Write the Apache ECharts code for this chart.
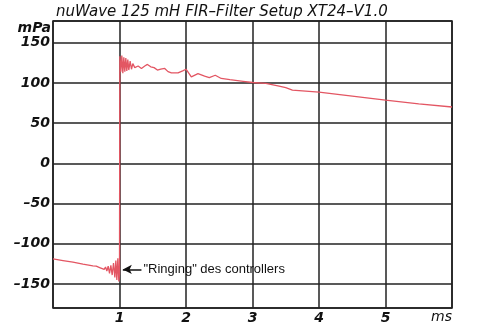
<!DOCTYPE html>
<html>
<head>
<meta charset="utf-8">
<script src="https://cdn.jsdelivr.net/npm/echarts@6/dist/echarts.min.js"></script>
<style>
  html, body { margin: 0; padding: 0; background: #fff; }
  #chart { width: 477px; height: 326px; }
</style>
</head>
<body>
<div id="chart"></div>
<script>
// time axis in ms, pressure in mPa
var timeMs = [
  0, 0.15, 0.3, 0.45, 0.6, 0.65, 0.68, 0.71, 0.74, 0.77, 0.79, 0.81, 0.83, 0.85, 0.87, 0.89,
  0.91, 0.93, 0.945, 0.96, 0.975, 0.99, 1.0,
  1.005, 1.02, 1.035, 1.05, 1.065, 1.08, 1.095, 1.11, 1.125, 1.14, 1.16, 1.18, 1.2, 1.23,
  1.28, 1.33, 1.38, 1.42, 1.47, 1.52, 1.57, 1.62, 1.68, 1.73, 1.78, 1.88, 1.95, 2.0,
  2.08, 2.18, 2.28, 2.35, 2.44, 2.53, 2.66, 2.86, 3.0, 3.2, 3.4, 3.5, 3.6, 4.0, 4.5, 5.0, 5.5, 6.0
];
var pressure = [
  -119, -121, -123, -125.5, -127.5, -128, -126.5, -130, -128, -132, -129, -134, -128, -137, -127, -139,
  -124, -142, -121, -145, -118, -147, -138,
  133, 114, 134, 112, 132, 114, 131, 115, 129, 116, 127, 117, 124, 119,
  121, 118, 121, 123, 120, 119, 116, 117, 118, 114, 112.5, 112.5, 115, 117,
  107.5, 111.5, 108.5, 106.5, 109.5, 105.5, 104, 102, 100.5, 99.5, 96, 94, 91, 88.5, 83.5, 78.5, 74, 70
];
var xTicks = [1, 2, 3, 4, 5];
var yTicks = [-150, -100, -50, 0, 50, 100, 150];

var seriesData = timeMs.map(function (t, i) { return [t, pressure[i]]; });

var labelFont = {
  color: '#111',
  fontFamily: 'DejaVu Sans',
  fontStyle: 'italic',
  fontWeight: 'bold',
  fontSize: 14
};

var option = {
  animation: false,
  backgroundColor: '#fff',
  title: {
    text: 'nuWave 125 mH FIR–Filter Setup XT24–V1.0',
    left: 51,
    top: 0,
    textStyle: {
      color: '#111',
      fontFamily: 'DejaVu Sans',
      fontStyle: 'italic',
      fontWeight: 'normal',
      fontSize: 15
    }
  },
  grid: {
    left: 53, right: 25, top: 21, bottom: 18,
    show: true,
    borderColor: '#111',
    borderWidth: 1.5
  },
  xAxis: {
    type: 'value',
    min: 0,
    max: 6,
    interval: 1,
    name: 'ms',
    nameLocation: 'end',
    nameGap: 0,
    nameTextStyle: {
      color: '#111',
      fontFamily: 'DejaVu Sans',
      fontStyle: 'italic',
      fontSize: 14,
      align: 'right',
      verticalAlign: 'top',
      padding: [2, 0, 0, 0]
    },
    axisLine: { show: false, onZero: false },
    axisTick: { show: false },
    axisLabel: Object.assign({
      margin: 3,
      formatter: function (v) { return xTicks.indexOf(v) >= 0 ? String(v) : ''; }
    }, labelFont),
    splitLine: { show: true, lineStyle: { color: '#222', width: 1.5 } }
  },
  yAxis: {
    type: 'value',
    min: -180,
    max: 177,
    splitNumber: 7,
    name: 'mPa',
    nameLocation: 'end',
    nameGap: -8,
    nameTextStyle: Object.assign({
      align: 'right',
      verticalAlign: 'middle',
      padding: [0, 2, 0, 0]
    }, labelFont),
    axisLine: { show: false, onZero: false },
    axisTick: { show: false },
    axisLabel: Object.assign({
      margin: 3,
      formatter: function (v) {
        if (yTicks.indexOf(v) < 0) return '';
        return v < 0 ? '\u2013' + Math.abs(v) : String(v);
      }
    }, labelFont),
    splitLine: { show: true, lineStyle: { color: '#222', width: 1.5 } }
  },
  series: [{
    type: 'line',
    data: seriesData,
    showSymbol: false,
    smooth: false,
    z: 5,
    lineStyle: { color: '#e35663', width: 1.3 },
    markLine: {
      silent: true,
      symbol: ['none', 'arrow'],
      symbolSize: [7, 9],
      lineStyle: { color: '#111', width: 1.5, type: 'solid' },
      label: {
        show: true,
        position: 'start',
        distance: 2,
        formatter: '"Ringing" des controllers',
        color: '#111',
        fontFamily: 'Liberation Sans',
        fontSize: 13
      },
      data: [[{ coord: [1.33, -132] }, { coord: [1.05, -132] }]]
    }
  }]
};

var chart = echarts.init(document.getElementById('chart'), null, { renderer: 'canvas' });
chart.setOption(option);
</script>
</body>
</html>
